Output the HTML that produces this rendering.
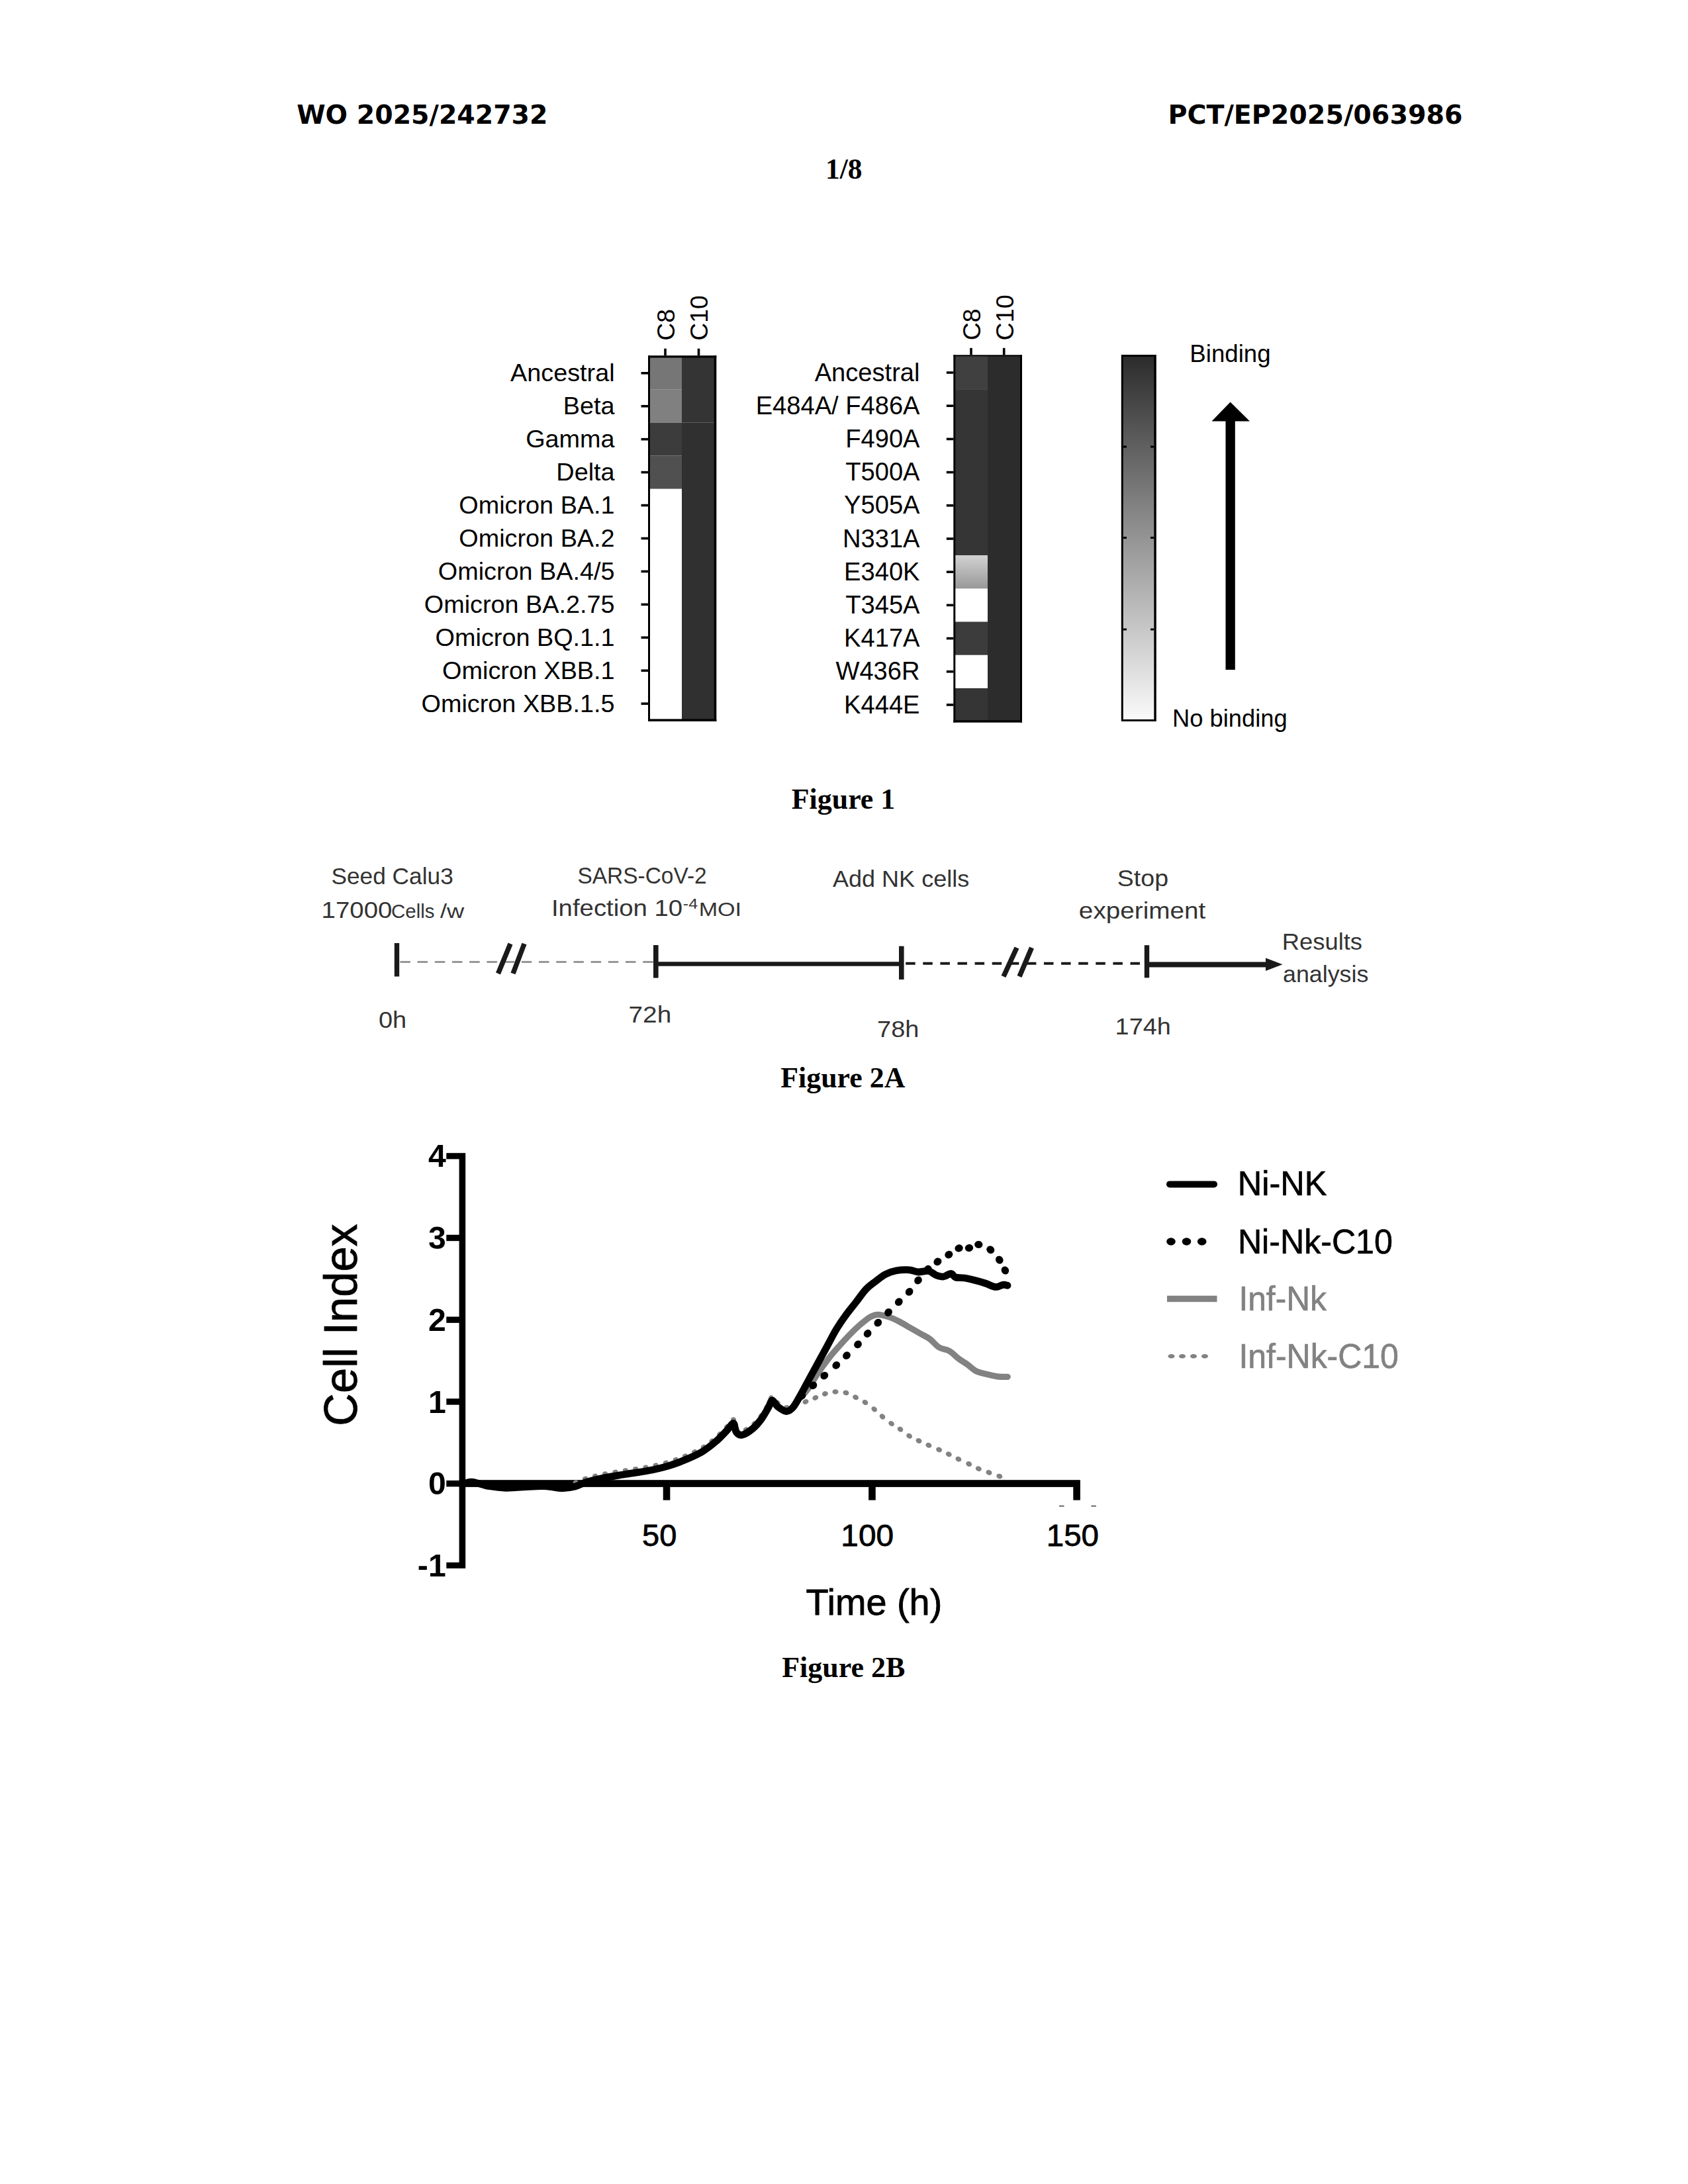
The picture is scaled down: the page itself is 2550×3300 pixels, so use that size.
<!DOCTYPE html>
<html lang="en"><head><meta charset="utf-8"><title>WO 2025/242732 - sheet 1/8</title>
<style>html,body{margin:0;padding:0;background:#fff}body{width:2550px;height:3300px;overflow:hidden;position:relative}svg{position:absolute;left:0;top:0;display:block}text{white-space:pre}</style></head>
<body>
<svg width="2550" height="3300" viewBox="0 0 2550 3300">
<rect width="2550" height="3300" fill="#fff"/>
<defs><linearGradient id="e340" x1="0" y1="0" x2="0" y2="1"><stop offset="0" stop-color="#d2d2d2"/><stop offset="1" stop-color="#989898"/></linearGradient></defs>
<text x="448.16" y="186.90" font-family='"DejaVu Sans", sans-serif' font-weight="bold" font-size="38.5" fill="#000" textLength="379.25" lengthAdjust="spacingAndGlyphs" >WO 2025/242732</text>
<text x="1764.40" y="186.90" font-family='"DejaVu Sans", sans-serif' font-weight="bold" font-size="38.5" fill="#000" textLength="445.07" lengthAdjust="spacingAndGlyphs" >PCT/EP2025/063986</text>
<text x="1247.03" y="270.00" font-family='"Liberation Serif", serif' font-weight="bold" font-size="44" fill="#000" textLength="55.39" lengthAdjust="spacingAndGlyphs" >1/8</text>
<rect x="980.00" y="538.83" width="50.00" height="49.94" fill="#767676" />
<rect x="980.00" y="588.77" width="50.00" height="49.94" fill="#808080" />
<rect x="980.00" y="638.71" width="50.00" height="49.94" fill="#3c3c3c" />
<rect x="980.00" y="688.65" width="50.00" height="49.94" fill="#505050" />
<rect x="1030.00" y="538.83" width="51.30" height="99.88" fill="#343434" />
<rect x="1030.00" y="638.71" width="51.30" height="449.46" fill="#303030" />
<rect x="979.00" y="537.20" width="103.30" height="3.30" fill="#000" />
<rect x="979.00" y="1086.40" width="103.30" height="3.60" fill="#000" />
<rect x="979.00" y="537.20" width="3.00" height="552.80" fill="#000" />
<rect x="1078.70" y="537.20" width="3.60" height="552.80" fill="#000" />
<line x1="968.50" y1="563.80" x2="979.00" y2="563.80" stroke="#000" stroke-width="3.6" />
<text x="771.03" y="576.10" font-family='"Liberation Sans", sans-serif' font-weight="normal" font-size="37.8" fill="#000" textLength="157.57" lengthAdjust="spacingAndGlyphs" >Ancestral</text>
<line x1="968.50" y1="613.74" x2="979.00" y2="613.74" stroke="#000" stroke-width="3.6" />
<text x="850.84" y="626.04" font-family='"Liberation Sans", sans-serif' font-weight="normal" font-size="37.8" fill="#000" textLength="77.76" lengthAdjust="spacingAndGlyphs" >Beta</text>
<line x1="968.50" y1="663.68" x2="979.00" y2="663.68" stroke="#000" stroke-width="3.6" />
<text x="794.18" y="675.98" font-family='"Liberation Sans", sans-serif' font-weight="normal" font-size="37.8" fill="#000" textLength="134.42" lengthAdjust="spacingAndGlyphs" >Gamma</text>
<line x1="968.50" y1="713.62" x2="979.00" y2="713.62" stroke="#000" stroke-width="3.6" />
<text x="840.36" y="725.92" font-family='"Liberation Sans", sans-serif' font-weight="normal" font-size="37.8" fill="#000" textLength="88.24" lengthAdjust="spacingAndGlyphs" >Delta</text>
<line x1="968.50" y1="763.56" x2="979.00" y2="763.56" stroke="#000" stroke-width="3.6" />
<text x="693.33" y="775.86" font-family='"Liberation Sans", sans-serif' font-weight="normal" font-size="37.8" fill="#000" textLength="235.27" lengthAdjust="spacingAndGlyphs" >Omicron BA.1</text>
<line x1="968.50" y1="813.50" x2="979.00" y2="813.50" stroke="#000" stroke-width="3.6" />
<text x="693.33" y="825.80" font-family='"Liberation Sans", sans-serif' font-weight="normal" font-size="37.8" fill="#000" textLength="235.27" lengthAdjust="spacingAndGlyphs" >Omicron BA.2</text>
<line x1="968.50" y1="863.44" x2="979.00" y2="863.44" stroke="#000" stroke-width="3.6" />
<text x="661.80" y="875.74" font-family='"Liberation Sans", sans-serif' font-weight="normal" font-size="37.8" fill="#000" textLength="266.80" lengthAdjust="spacingAndGlyphs" >Omicron BA.4/5</text>
<line x1="968.50" y1="913.38" x2="979.00" y2="913.38" stroke="#000" stroke-width="3.6" />
<text x="640.78" y="925.68" font-family='"Liberation Sans", sans-serif' font-weight="normal" font-size="37.8" fill="#000" textLength="287.82" lengthAdjust="spacingAndGlyphs" >Omicron BA.2.75</text>
<line x1="968.50" y1="963.32" x2="979.00" y2="963.32" stroke="#000" stroke-width="3.6" />
<text x="657.61" y="975.62" font-family='"Liberation Sans", sans-serif' font-weight="normal" font-size="37.8" fill="#000" textLength="270.99" lengthAdjust="spacingAndGlyphs" >Omicron BQ.1.1</text>
<line x1="968.50" y1="1013.26" x2="979.00" y2="1013.26" stroke="#000" stroke-width="3.6" />
<text x="668.11" y="1025.56" font-family='"Liberation Sans", sans-serif' font-weight="normal" font-size="37.8" fill="#000" textLength="260.49" lengthAdjust="spacingAndGlyphs" >Omicron XBB.1</text>
<line x1="968.50" y1="1063.20" x2="979.00" y2="1063.20" stroke="#000" stroke-width="3.6" />
<text x="636.59" y="1075.50" font-family='"Liberation Sans", sans-serif' font-weight="normal" font-size="37.8" fill="#000" textLength="292.01" lengthAdjust="spacingAndGlyphs" >Omicron XBB.1.5</text>
<line x1="1005.00" y1="526.70" x2="1005.00" y2="537.20" stroke="#000" stroke-width="3.6" />
<line x1="1055.50" y1="526.70" x2="1055.50" y2="537.20" stroke="#000" stroke-width="3.6" />
<rect x="1441.30" y="537.90" width="50.70" height="50.20" fill="#404040" />
<rect x="1441.30" y="588.10" width="50.70" height="251.00" fill="#353535" />
<rect x="1441.30" y="839.10" width="50.70" height="50.20" fill="url(#e340)" />
<rect x="1441.30" y="939.50" width="50.70" height="50.20" fill="#3c3c3c" />
<rect x="1441.30" y="1039.90" width="50.70" height="50.20" fill="#353535" />
<rect x="1492.00" y="537.90" width="51.00" height="552.20" fill="#2c2c2c" />
<rect x="1440.30" y="536.30" width="103.70" height="2.00" fill="#000" />
<rect x="1440.30" y="1088.30" width="103.70" height="3.40" fill="#000" />
<rect x="1440.30" y="536.30" width="3.00" height="555.40" fill="#000" />
<rect x="1541.00" y="536.30" width="3.00" height="555.40" fill="#000" />
<line x1="1429.80" y1="563.00" x2="1440.30" y2="563.00" stroke="#000" stroke-width="3.6" />
<text x="1230.68" y="575.60" font-family='"Liberation Sans", sans-serif' font-weight="normal" font-size="38.1" fill="#000" textLength="158.82" lengthAdjust="spacingAndGlyphs" >Ancestral</text>
<line x1="1429.80" y1="613.20" x2="1440.30" y2="613.20" stroke="#000" stroke-width="3.6" />
<text x="1141.68" y="625.80" font-family='"Liberation Sans", sans-serif' font-weight="normal" font-size="38.1" fill="#000" textLength="247.82" lengthAdjust="spacingAndGlyphs" >E484A/ F486A</text>
<line x1="1429.80" y1="663.40" x2="1440.30" y2="663.40" stroke="#000" stroke-width="3.6" />
<text x="1277.25" y="676.00" font-family='"Liberation Sans", sans-serif' font-weight="normal" font-size="38.1" fill="#000" textLength="112.25" lengthAdjust="spacingAndGlyphs" >F490A</text>
<line x1="1429.80" y1="713.60" x2="1440.30" y2="713.60" stroke="#000" stroke-width="3.6" />
<text x="1277.25" y="726.20" font-family='"Liberation Sans", sans-serif' font-weight="normal" font-size="38.1" fill="#000" textLength="112.25" lengthAdjust="spacingAndGlyphs" >T500A</text>
<line x1="1429.80" y1="763.80" x2="1440.30" y2="763.80" stroke="#000" stroke-width="3.6" />
<text x="1275.11" y="776.40" font-family='"Liberation Sans", sans-serif' font-weight="normal" font-size="38.1" fill="#000" textLength="114.39" lengthAdjust="spacingAndGlyphs" >Y505A</text>
<line x1="1429.80" y1="814.00" x2="1440.30" y2="814.00" stroke="#000" stroke-width="3.6" />
<text x="1273.00" y="826.60" font-family='"Liberation Sans", sans-serif' font-weight="normal" font-size="38.1" fill="#000" textLength="116.50" lengthAdjust="spacingAndGlyphs" >N331A</text>
<line x1="1429.80" y1="864.20" x2="1440.30" y2="864.20" stroke="#000" stroke-width="3.6" />
<text x="1275.11" y="876.80" font-family='"Liberation Sans", sans-serif' font-weight="normal" font-size="38.1" fill="#000" textLength="114.39" lengthAdjust="spacingAndGlyphs" >E340K</text>
<line x1="1429.80" y1="914.40" x2="1440.30" y2="914.40" stroke="#000" stroke-width="3.6" />
<text x="1277.25" y="927.00" font-family='"Liberation Sans", sans-serif' font-weight="normal" font-size="38.1" fill="#000" textLength="112.25" lengthAdjust="spacingAndGlyphs" >T345A</text>
<line x1="1429.80" y1="964.60" x2="1440.30" y2="964.60" stroke="#000" stroke-width="3.6" />
<text x="1275.11" y="977.20" font-family='"Liberation Sans", sans-serif' font-weight="normal" font-size="38.1" fill="#000" textLength="114.39" lengthAdjust="spacingAndGlyphs" >K417A</text>
<line x1="1429.80" y1="1014.80" x2="1440.30" y2="1014.80" stroke="#000" stroke-width="3.6" />
<text x="1262.46" y="1027.40" font-family='"Liberation Sans", sans-serif' font-weight="normal" font-size="38.1" fill="#000" textLength="127.04" lengthAdjust="spacingAndGlyphs" >W436R</text>
<line x1="1429.80" y1="1065.00" x2="1440.30" y2="1065.00" stroke="#000" stroke-width="3.6" />
<text x="1275.11" y="1077.60" font-family='"Liberation Sans", sans-serif' font-weight="normal" font-size="38.1" fill="#000" textLength="114.39" lengthAdjust="spacingAndGlyphs" >K444E</text>
<line x1="1467.00" y1="525.80" x2="1467.00" y2="536.30" stroke="#000" stroke-width="3.6" />
<line x1="1516.70" y1="525.80" x2="1516.70" y2="536.30" stroke="#000" stroke-width="3.6" />
<text transform="translate(1018.50,514.67) rotate(-90)" x="0" y="0" font-family='"Liberation Sans", sans-serif' font-weight="normal" font-size="37.8" fill="#000" textLength="47.79" lengthAdjust="spacingAndGlyphs" >C8</text>
<text transform="translate(1068.50,514.67) rotate(-90)" x="0" y="0" font-family='"Liberation Sans", sans-serif' font-weight="normal" font-size="37.8" fill="#000" textLength="68.50" lengthAdjust="spacingAndGlyphs" >C10</text>
<text transform="translate(1480.50,514.37) rotate(-90)" x="0" y="0" font-family='"Liberation Sans", sans-serif' font-weight="normal" font-size="37.8" fill="#000" textLength="47.90" lengthAdjust="spacingAndGlyphs" >C8</text>
<text transform="translate(1530.70,514.39) rotate(-90)" x="0" y="0" font-family='"Liberation Sans", sans-serif' font-weight="normal" font-size="37.8" fill="#000" textLength="69.24" lengthAdjust="spacingAndGlyphs" >C10</text>
<defs><linearGradient id="cb" x1="0" y1="0" x2="0" y2="1"><stop offset="0" stop-color="#2c2c2c"/><stop offset="0.5" stop-color="#949494"/><stop offset="1" stop-color="#fafafa"/></linearGradient></defs>
<rect x="1693.80" y="536.00" width="53.00" height="554.00" fill="#000" />
<rect x="1696.80" y="539.00" width="46.50" height="548.00" fill="url(#cb)" />
<line x1="1696.80" y1="675.00" x2="1702.00" y2="675.00" stroke="#000" stroke-width="3" />
<line x1="1738.00" y1="675.00" x2="1743.30" y2="675.00" stroke="#000" stroke-width="3" />
<line x1="1696.80" y1="812.50" x2="1702.00" y2="812.50" stroke="#000" stroke-width="3" />
<line x1="1738.00" y1="812.50" x2="1743.30" y2="812.50" stroke="#000" stroke-width="3" />
<line x1="1696.80" y1="951.00" x2="1702.00" y2="951.00" stroke="#000" stroke-width="3" />
<line x1="1738.00" y1="951.00" x2="1743.30" y2="951.00" stroke="#000" stroke-width="3" />
<text x="1797.30" y="547.30" font-family='"Liberation Sans", sans-serif' font-weight="normal" font-size="36.5" fill="#000" textLength="122.25" lengthAdjust="spacingAndGlyphs" >Binding</text>
<text x="1771.02" y="1097.80" font-family='"Liberation Sans", sans-serif' font-weight="normal" font-size="36.5" fill="#000" textLength="173.61" lengthAdjust="spacingAndGlyphs" >No binding</text>
<rect x="1851.50" y="634.00" width="14.30" height="378.00" fill="#000" />
<polygon points="1858.6,607.5 1888,636.5 1830.5,636.5" fill="#000"/>
<text x="1195.75" y="1222.40" font-family='"Liberation Serif", serif' font-weight="bold" font-size="44" fill="#000" textLength="156.51" lengthAdjust="spacingAndGlyphs" >Figure 1</text>
<text x="500.41" y="1335.90" font-family='"Liberation Sans", sans-serif' font-weight="normal" font-size="35" fill="#333333" textLength="184.41" lengthAdjust="spacingAndGlyphs" >Seed Calu3</text>
<text x="485.58" y="1387.00" font-family='"Liberation Sans", sans-serif' font-weight="normal" font-size="35" fill="#333333" textLength="106.87" lengthAdjust="spacingAndGlyphs" >17000</text>
<text x="591.03" y="1387.00" font-family='"Liberation Sans", sans-serif' font-weight="normal" font-size="30" fill="#333333" textLength="65.53" lengthAdjust="spacingAndGlyphs" >Cells</text>
<text x="665.00" y="1387.00" font-family='"Liberation Sans", sans-serif' font-weight="normal" font-size="30" fill="#333333" textLength="36.29" lengthAdjust="spacingAndGlyphs" >/w</text>
<text x="872.49" y="1334.80" font-family='"Liberation Sans", sans-serif' font-weight="normal" font-size="35" fill="#333333" textLength="195.19" lengthAdjust="spacingAndGlyphs" >SARS-CoV-2</text>
<text x="832.97" y="1383.80" font-family='"Liberation Sans", sans-serif' font-weight="normal" font-size="35" fill="#333333" textLength="198.20" lengthAdjust="spacingAndGlyphs" >Infection 10</text>
<text x="1031.89" y="1372.50" font-family='"Liberation Sans", sans-serif' font-weight="normal" font-size="21.5" fill="#333333" textLength="22.34" lengthAdjust="spacingAndGlyphs" >-4</text>
<text x="1055.70" y="1383.80" font-family='"Liberation Sans", sans-serif' font-weight="normal" font-size="29" fill="#333333" textLength="64.42" lengthAdjust="spacingAndGlyphs" >MOI</text>
<text x="1257.93" y="1340.00" font-family='"Liberation Sans", sans-serif' font-weight="normal" font-size="35" fill="#333333" textLength="206.36" lengthAdjust="spacingAndGlyphs" >Add NK cells</text>
<text x="1687.81" y="1338.60" font-family='"Liberation Sans", sans-serif' font-weight="normal" font-size="35" fill="#333333" textLength="77.23" lengthAdjust="spacingAndGlyphs" >Stop</text>
<text x="1629.88" y="1388.00" font-family='"Liberation Sans", sans-serif' font-weight="normal" font-size="35" fill="#333333" textLength="191.39" lengthAdjust="spacingAndGlyphs" >experiment</text>
<text x="1936.82" y="1435.00" font-family='"Liberation Sans", sans-serif' font-weight="normal" font-size="35" fill="#333333" textLength="121.21" lengthAdjust="spacingAndGlyphs" >Results</text>
<text x="1938.00" y="1484.30" font-family='"Liberation Sans", sans-serif' font-weight="normal" font-size="35" fill="#333333" textLength="129.28" lengthAdjust="spacingAndGlyphs" >analysis</text>
<text x="572.02" y="1553.40" font-family='"Liberation Sans", sans-serif' font-weight="normal" font-size="35" fill="#333333" textLength="42.22" lengthAdjust="spacingAndGlyphs" >0h</text>
<text x="949.52" y="1545.10" font-family='"Liberation Sans", sans-serif' font-weight="normal" font-size="35" fill="#333333" textLength="64.68" lengthAdjust="spacingAndGlyphs" >72h</text>
<text x="1325.06" y="1567.40" font-family='"Liberation Sans", sans-serif' font-weight="normal" font-size="35" fill="#333333" textLength="63.39" lengthAdjust="spacingAndGlyphs" >78h</text>
<text x="1684.62" y="1563.00" font-family='"Liberation Sans", sans-serif' font-weight="normal" font-size="35" fill="#333333" textLength="84.33" lengthAdjust="spacingAndGlyphs" >174h</text>
<rect x="595.80" y="1425.00" width="7.40" height="50.50" fill="#1a1a1a" />
<rect x="987.00" y="1428.00" width="7.60" height="49.60" fill="#1a1a1a" />
<rect x="1358.00" y="1429.60" width="7.60" height="50.40" fill="#1a1a1a" />
<rect x="1728.80" y="1428.20" width="7.40" height="49.20" fill="#1a1a1a" />
<line x1="604.40" y1="1453.50" x2="987.00" y2="1453.50" stroke="#979797" stroke-width="2.8" stroke-dasharray="15.5 10.7"/>
<line x1="994.00" y1="1456.50" x2="1358.00" y2="1456.50" stroke="#1a1a1a" stroke-width="6.5" />
<line x1="1368.20" y1="1455.80" x2="1722.20" y2="1455.80" stroke="#1a1a1a" stroke-width="4" stroke-dasharray="14.5 11.6"/>
<line x1="1736.00" y1="1457.40" x2="1916.00" y2="1457.40" stroke="#1a1a1a" stroke-width="8" />
<polygon points="1912,1447.5 1937.5,1457.3 1912,1467" fill="#1a1a1a"/>
<line x1="752.50" y1="1471.00" x2="771.00" y2="1426.00" stroke="#1a1a1a" stroke-width="7.5" />
<line x1="775.00" y1="1471.00" x2="792.00" y2="1426.00" stroke="#1a1a1a" stroke-width="7.5" />
<line x1="1516.00" y1="1475.50" x2="1536.00" y2="1432.00" stroke="#1a1a1a" stroke-width="7.5" />
<line x1="1540.00" y1="1475.50" x2="1558.50" y2="1432.00" stroke="#1a1a1a" stroke-width="7.5" />
<text x="1179.25" y="1642.50" font-family='"Liberation Serif", serif' font-weight="bold" font-size="44" fill="#000" textLength="188.08" lengthAdjust="spacingAndGlyphs" >Figure 2A</text>
<rect x="693.60" y="1742.20" width="9.60" height="627.60" fill="#000" />
<rect x="693.70" y="2236.20" width="938.20" height="10.70" fill="#000" />
<rect x="674.30" y="1742.20" width="19.70" height="9.20" fill="#000" />
<rect x="674.30" y="1865.75" width="19.70" height="9.40" fill="#000" />
<rect x="674.30" y="1989.50" width="19.70" height="9.40" fill="#000" />
<rect x="674.30" y="2113.25" width="19.70" height="9.40" fill="#000" />
<rect x="674.30" y="2237.00" width="19.70" height="9.40" fill="#000" />
<rect x="674.30" y="2360.75" width="19.70" height="9.05" fill="#000" />
<rect x="1001.73" y="2246.00" width="10.60" height="20.70" fill="#000" />
<rect x="1312.15" y="2246.00" width="10.60" height="20.70" fill="#000" />
<rect x="1621.30" y="2246.00" width="10.60" height="20.70" fill="#000" />
<text x="646.89" y="1763.30" font-family='"Liberation Sans", sans-serif' font-weight="bold" font-size="48.2" fill="#000" textLength="26.81" lengthAdjust="spacingAndGlyphs" >4</text>
<text x="646.89" y="1887.05" font-family='"Liberation Sans", sans-serif' font-weight="bold" font-size="48.2" fill="#000" textLength="26.81" lengthAdjust="spacingAndGlyphs" >3</text>
<text x="646.89" y="2010.80" font-family='"Liberation Sans", sans-serif' font-weight="bold" font-size="48.2" fill="#000" textLength="26.81" lengthAdjust="spacingAndGlyphs" >2</text>
<text x="646.89" y="2134.55" font-family='"Liberation Sans", sans-serif' font-weight="bold" font-size="48.2" fill="#000" textLength="26.81" lengthAdjust="spacingAndGlyphs" >1</text>
<text x="646.89" y="2258.30" font-family='"Liberation Sans", sans-serif' font-weight="bold" font-size="48.2" fill="#000" textLength="26.81" lengthAdjust="spacingAndGlyphs" >0</text>
<text x="630.84" y="2382.05" font-family='"Liberation Sans", sans-serif' font-weight="bold" font-size="48.2" fill="#000" textLength="42.86" lengthAdjust="spacingAndGlyphs" >-1</text>
<text x="970.12" y="2336.40" font-family='"Liberation Sans", sans-serif' font-weight="normal" font-size="46.7" fill="#000" textLength="52.28" lengthAdjust="spacingAndGlyphs" stroke="#000" stroke-width="0.8">50</text>
<text x="1270.37" y="2336.40" font-family='"Liberation Sans", sans-serif' font-weight="normal" font-size="46.7" fill="#000" textLength="79.77" lengthAdjust="spacingAndGlyphs" stroke="#000" stroke-width="0.8">100</text>
<text x="1580.69" y="2336.40" font-family='"Liberation Sans", sans-serif' font-weight="normal" font-size="46.7" fill="#000" textLength="79.34" lengthAdjust="spacingAndGlyphs" stroke="#000" stroke-width="0.8">150</text>
<text x="1217.47" y="2440.00" font-family='"Liberation Sans", sans-serif' font-weight="normal" font-size="55" fill="#000" textLength="205.80" lengthAdjust="spacingAndGlyphs" stroke="#000" stroke-width="0.8">Time (h)</text>
<text transform="translate(539.10,2154.64) rotate(-90)" x="0" y="0" font-family='"Liberation Sans", sans-serif' font-weight="normal" font-size="70.6" fill="#000" textLength="305.61" lengthAdjust="spacingAndGlyphs" stroke="#000" stroke-width="0.8">Cell Index</text>
<path d="M869.0,2240.0 C871.8,2238.9 878.5,2235.7 885.7,2233.5 C892.9,2231.3 902.0,2229.0 912.0,2227.0 C922.0,2225.0 934.3,2223.3 945.4,2221.5 C956.5,2219.7 967.5,2218.5 978.6,2216.3 C989.7,2214.1 1001.9,2211.3 1011.8,2208.3 C1021.7,2205.3 1029.7,2202.1 1038.0,2198.5 C1046.3,2194.9 1054.2,2191.4 1061.5,2187.0 C1068.8,2182.6 1075.4,2177.2 1081.5,2172.0 C1087.6,2166.8 1093.6,2160.1 1098.0,2155.5 C1102.4,2150.9 1105.7,2144.2 1108.0,2144.5 C1110.3,2144.8 1109.8,2154.5 1112.0,2157.5 C1114.2,2160.5 1116.7,2163.2 1121.0,2162.3 C1125.3,2161.4 1132.9,2156.2 1137.9,2152.0 C1142.9,2147.8 1147.2,2142.3 1151.0,2137.0 C1154.8,2131.7 1158.4,2124.9 1161.0,2120.4 C1163.6,2115.9 1164.2,2110.2 1166.5,2110.0 C1168.8,2109.8 1171.5,2116.8 1175.0,2119.5 C1178.5,2122.2 1183.8,2126.3 1187.6,2126.5 C1191.4,2126.7 1195.1,2121.1 1198.0,2120.5 C1200.9,2119.9 1203.8,2122.6 1205.0,2123.0" fill="none" stroke="#828282" stroke-width="6.5" stroke-linejoin="round" stroke-linecap="round" stroke-dasharray="1.5 14"/>
<ellipse cx="1217.0" cy="2118.0" rx="4.6" ry="3.8" fill="#828282" transform="rotate(-22 1217.0 2118.0)"/>
<ellipse cx="1231.8" cy="2112.0" rx="4.6" ry="3.8" fill="#828282" transform="rotate(-22 1231.8 2112.0)"/>
<ellipse cx="1246.4" cy="2106.0" rx="4.6" ry="3.8" fill="#828282" transform="rotate(-17 1246.4 2106.0)"/>
<ellipse cx="1262.0" cy="2103.0" rx="4.6" ry="3.8" fill="#828282" transform="rotate(-3 1262.0 2103.0)"/>
<ellipse cx="1278.0" cy="2104.5" rx="4.6" ry="3.8" fill="#828282" transform="rotate(15 1278.0 2104.5)"/>
<ellipse cx="1292.6" cy="2111.3" rx="4.6" ry="3.8" fill="#828282" transform="rotate(27 1292.6 2111.3)"/>
<ellipse cx="1307.0" cy="2119.0" rx="4.6" ry="3.8" fill="#828282" transform="rotate(33 1307.0 2119.0)"/>
<ellipse cx="1320.7" cy="2129.3" rx="4.6" ry="3.8" fill="#828282" transform="rotate(40 1320.7 2129.3)"/>
<ellipse cx="1333.0" cy="2140.5" rx="4.6" ry="3.8" fill="#828282" transform="rotate(40 1333.0 2140.5)"/>
<ellipse cx="1346.6" cy="2151.0" rx="4.6" ry="3.8" fill="#828282" transform="rotate(35 1346.6 2151.0)"/>
<ellipse cx="1360.0" cy="2159.7" rx="4.6" ry="3.8" fill="#828282" transform="rotate(35 1360.0 2159.7)"/>
<ellipse cx="1373.6" cy="2169.8" rx="4.6" ry="3.8" fill="#828282" transform="rotate(32 1373.6 2169.8)"/>
<ellipse cx="1388.0" cy="2177.0" rx="4.6" ry="3.8" fill="#828282" transform="rotate(26 1388.0 2177.0)"/>
<ellipse cx="1402.9" cy="2183.8" rx="4.6" ry="3.8" fill="#828282" transform="rotate(24 1402.9 2183.8)"/>
<ellipse cx="1418.6" cy="2190.5" rx="4.6" ry="3.8" fill="#828282" transform="rotate(24 1418.6 2190.5)"/>
<ellipse cx="1433.3" cy="2197.3" rx="4.6" ry="3.8" fill="#828282" transform="rotate(26 1433.3 2197.3)"/>
<ellipse cx="1447.9" cy="2204.7" rx="4.6" ry="3.8" fill="#828282" transform="rotate(26 1447.9 2204.7)"/>
<ellipse cx="1463.7" cy="2212.0" rx="4.6" ry="3.8" fill="#828282" transform="rotate(26 1463.7 2212.0)"/>
<ellipse cx="1478.3" cy="2219.3" rx="4.6" ry="3.8" fill="#828282" transform="rotate(23 1478.3 2219.3)"/>
<ellipse cx="1494.0" cy="2225.0" rx="4.6" ry="3.8" fill="#828282" transform="rotate(20 1494.0 2225.0)"/>
<ellipse cx="1509.8" cy="2230.6" rx="4.6" ry="3.8" fill="#828282" transform="rotate(20 1509.8 2230.6)"/>
<path d="M1209.0,2112.0 C1210.9,2109.8 1216.0,2105.2 1220.5,2098.9 C1225.0,2092.6 1230.7,2082.2 1236.3,2074.0 C1241.9,2065.8 1248.7,2056.5 1254.3,2049.4 C1259.9,2042.3 1264.8,2037.2 1270.0,2031.4 C1275.2,2025.6 1280.5,2019.8 1285.8,2014.5 C1291.1,2009.2 1296.7,2003.9 1301.6,1999.8 C1306.5,1995.7 1310.9,1992.0 1315.0,1989.7 C1319.1,1987.5 1321.8,1986.3 1326.3,1986.3 C1330.8,1986.3 1336.8,1988.0 1342.0,1989.7 C1347.2,1991.4 1352.5,1993.9 1357.8,1996.5 C1363.1,1999.1 1368.3,2002.5 1373.6,2005.5 C1378.9,2008.5 1384.2,2011.5 1389.4,2014.5 C1394.6,2017.5 1400.1,2019.9 1405.0,2023.5 C1409.9,2027.1 1413.7,2032.9 1418.6,2035.9 C1423.5,2038.9 1429.5,2038.7 1434.4,2041.5 C1439.3,2044.3 1443.4,2049.3 1447.9,2052.7 C1452.4,2056.1 1456.9,2058.5 1461.4,2061.7 C1465.9,2064.9 1470.0,2069.4 1474.9,2071.9 C1479.8,2074.4 1485.5,2075.1 1490.7,2076.4 C1496.0,2077.7 1501.2,2079.1 1506.4,2079.8 C1511.7,2080.5 1519.6,2080.3 1522.2,2080.4" fill="none" stroke="#828282" stroke-width="9.3" stroke-linejoin="round" stroke-linecap="round" />
<ellipse cx="1211.5" cy="2109.0" rx="6.2" ry="5.6" fill="#000" transform="rotate(-43 1211.5 2109.0)"/>
<ellipse cx="1228.4" cy="2093.3" rx="6.2" ry="5.6" fill="#000" transform="rotate(-42 1228.4 2093.3)"/>
<ellipse cx="1245.3" cy="2078.6" rx="6.2" ry="5.6" fill="#000" transform="rotate(-41 1245.3 2078.6)"/>
<ellipse cx="1263.3" cy="2062.9" rx="6.2" ry="5.6" fill="#000" transform="rotate(-42 1263.3 2062.9)"/>
<ellipse cx="1279.0" cy="2048.2" rx="6.2" ry="5.6" fill="#000" transform="rotate(-44 1279.0 2048.2)"/>
<ellipse cx="1296.0" cy="2031.4" rx="6.2" ry="5.6" fill="#000" transform="rotate(-46 1296.0 2031.4)"/>
<ellipse cx="1310.6" cy="2015.0" rx="6.2" ry="5.6" fill="#000" transform="rotate(-47 1310.6 2015.0)"/>
<ellipse cx="1326.3" cy="1998.7" rx="6.2" ry="5.6" fill="#000" transform="rotate(-46 1326.3 1998.7)"/>
<ellipse cx="1342.0" cy="1983.0" rx="6.2" ry="5.6" fill="#000" transform="rotate(-45 1342.0 1983.0)"/>
<ellipse cx="1357.8" cy="1967.2" rx="6.2" ry="5.6" fill="#000" transform="rotate(-45 1357.8 1967.2)"/>
<ellipse cx="1373.6" cy="1951.9" rx="6.2" ry="5.6" fill="#000" transform="rotate(-48 1373.6 1951.9)"/>
<ellipse cx="1387.0" cy="1934.6" rx="6.2" ry="5.6" fill="#000" transform="rotate(-51 1387.0 1934.6)"/>
<ellipse cx="1401.7" cy="1917.7" rx="6.2" ry="5.6" fill="#000" transform="rotate(-44 1401.7 1917.7)"/>
<ellipse cx="1416.4" cy="1906.4" rx="6.2" ry="5.6" fill="#000" transform="rotate(-35 1416.4 1906.4)"/>
<ellipse cx="1433.3" cy="1895.8" rx="6.2" ry="5.6" fill="#000" transform="rotate(-32 1433.3 1895.8)"/>
<ellipse cx="1448.6" cy="1886.0" rx="6.2" ry="5.6" fill="#000" transform="rotate(-18 1448.6 1886.0)"/>
<ellipse cx="1464.0" cy="1885.7" rx="6.2" ry="5.6" fill="#000" transform="rotate(-10 1464.0 1885.7)"/>
<ellipse cx="1478.3" cy="1880.5" rx="6.2" ry="5.6" fill="#000" transform="rotate(5 1478.3 1880.5)"/>
<ellipse cx="1496.3" cy="1888.4" rx="6.2" ry="5.6" fill="#000" transform="rotate(36 1496.3 1888.4)"/>
<ellipse cx="1509.8" cy="1903.7" rx="6.2" ry="5.6" fill="#000" transform="rotate(55 1509.8 1903.7)"/>
<ellipse cx="1518.4" cy="1919.5" rx="6.2" ry="5.6" fill="#000" transform="rotate(61 1518.4 1919.5)"/>
<path d="M703.0,2241.0 C704.8,2240.7 707.9,2238.5 714.0,2239.3 C720.1,2240.1 731.0,2244.3 739.7,2245.8 C748.4,2247.3 755.0,2248.3 766.0,2248.3 C777.0,2248.3 796.0,2246.4 806.0,2246.0 C816.0,2245.6 818.8,2245.3 826.0,2245.8 C833.2,2246.3 841.8,2248.8 849.0,2248.8 C856.2,2248.8 862.9,2247.6 869.0,2246.0 C875.1,2244.4 878.5,2241.7 885.7,2239.5 C892.9,2237.3 902.0,2235.0 912.0,2233.0 C922.0,2231.0 934.3,2229.3 945.4,2227.5 C956.5,2225.7 967.5,2224.5 978.6,2222.3 C989.7,2220.1 1001.9,2217.3 1011.8,2214.3 C1021.7,2211.3 1029.7,2208.1 1038.0,2204.5 C1046.3,2200.9 1054.2,2197.4 1061.5,2193.0 C1068.8,2188.6 1075.4,2183.2 1081.5,2178.0 C1087.6,2172.8 1093.6,2166.1 1098.0,2161.5 C1102.4,2156.9 1105.7,2150.2 1108.0,2150.5 C1110.3,2150.8 1109.8,2160.5 1112.0,2163.5 C1114.2,2166.5 1116.7,2169.2 1121.0,2168.3 C1125.3,2167.4 1132.9,2162.2 1137.9,2158.0 C1142.9,2153.8 1147.2,2148.3 1151.0,2143.0 C1154.8,2137.7 1158.4,2130.9 1161.0,2126.4 C1163.6,2121.9 1164.2,2116.2 1166.5,2116.0 C1168.8,2115.8 1171.5,2122.8 1175.0,2125.5 C1178.5,2128.2 1183.8,2132.3 1187.6,2132.5 C1191.4,2132.7 1194.4,2130.6 1198.0,2126.5 C1201.6,2122.4 1205.2,2115.2 1209.3,2107.9 C1213.4,2100.7 1218.3,2091.2 1222.8,2083.0 C1227.3,2074.8 1231.8,2066.6 1236.3,2058.4 C1240.8,2050.2 1245.3,2041.9 1249.8,2033.6 C1254.3,2025.3 1258.8,2016.3 1263.3,2008.8 C1267.8,2001.3 1271.9,1995.3 1276.8,1988.6 C1281.7,1981.8 1287.3,1975.1 1292.6,1968.3 C1297.8,1961.5 1303.4,1953.2 1308.3,1948.0 C1313.2,1942.8 1316.9,1940.5 1321.8,1936.8 C1326.7,1933.0 1332.3,1928.3 1337.6,1925.5 C1342.8,1922.7 1347.3,1921.1 1353.3,1920.0 C1359.3,1918.9 1368.0,1918.5 1373.6,1918.8 C1379.2,1919.1 1382.1,1921.7 1387.0,1922.0 C1391.9,1922.3 1398.4,1919.7 1402.9,1920.5 C1407.4,1921.3 1410.2,1925.3 1414.0,1926.7 C1417.8,1928.1 1421.6,1929.4 1425.4,1929.0 C1429.2,1928.6 1433.6,1924.2 1436.6,1924.4 C1439.6,1924.6 1440.0,1928.9 1443.4,1930.0 C1446.8,1931.1 1452.0,1930.2 1456.9,1931.0 C1461.8,1931.8 1467.5,1933.2 1472.7,1934.5 C1478.0,1935.8 1483.2,1937.3 1488.4,1939.0 C1493.6,1940.7 1499.5,1944.3 1504.0,1944.7 C1508.5,1945.1 1512.4,1941.7 1515.4,1941.3 C1518.4,1940.9 1520.9,1942.2 1522.0,1942.4" fill="none" stroke="#000" stroke-width="10.8" stroke-linejoin="round" stroke-linecap="round" />
<line x1="1767.00" y1="1789.40" x2="1834.00" y2="1789.40" stroke="#000" stroke-width="10" stroke-linecap="round"/>
<ellipse cx="1769" cy="1876" rx="6.8" ry="5.8" fill="#000"/>
<ellipse cx="1792.5" cy="1876" rx="6.8" ry="5.8" fill="#000"/>
<ellipse cx="1815.7" cy="1876" rx="6.8" ry="5.8" fill="#000"/>
<line x1="1763.00" y1="1962.50" x2="1838.50" y2="1962.50" stroke="#828282" stroke-width="9.4" />
<ellipse cx="1769.5" cy="2049.3" rx="5" ry="3.2" fill="#828282"/>
<ellipse cx="1786" cy="2049.3" rx="5" ry="3.2" fill="#828282"/>
<ellipse cx="1803" cy="2049.3" rx="5" ry="3.2" fill="#828282"/>
<ellipse cx="1820" cy="2049.3" rx="5" ry="3.2" fill="#828282"/>
<text x="1869.86" y="1806.40" font-family='"Liberation Sans", sans-serif' font-weight="normal" font-size="52" fill="#000" textLength="134.67" lengthAdjust="spacingAndGlyphs" stroke="#000" stroke-width="0.7">Ni-NK</text>
<text x="1869.89" y="1893.50" font-family='"Liberation Sans", sans-serif' font-weight="normal" font-size="52" fill="#000" textLength="234.02" lengthAdjust="spacingAndGlyphs" stroke="#000" stroke-width="0.7">Ni-Nk-C10</text>
<text x="1871.43" y="1980.30" font-family='"Liberation Sans", sans-serif' font-weight="normal" font-size="52" fill="#828282" textLength="132.47" lengthAdjust="spacingAndGlyphs" stroke="#828282" stroke-width="0.7">Inf-Nk</text>
<text x="1871.40" y="2067.00" font-family='"Liberation Sans", sans-serif' font-weight="normal" font-size="52" fill="#828282" textLength="241.52" lengthAdjust="spacingAndGlyphs" stroke="#828282" stroke-width="0.7">Inf-Nk-C10</text>
<text x="1181.25" y="2534.40" font-family='"Liberation Serif", serif' font-weight="bold" font-size="44" fill="#000" textLength="186.16" lengthAdjust="spacingAndGlyphs" >Figure 2B</text>
<line x1="1600.00" y1="2275.60" x2="1607.50" y2="2275.60" stroke="#444" stroke-width="1.6" />
<line x1="1648.50" y1="2275.60" x2="1655.80" y2="2275.60" stroke="#444" stroke-width="1.6" />
</svg>
</body></html>
